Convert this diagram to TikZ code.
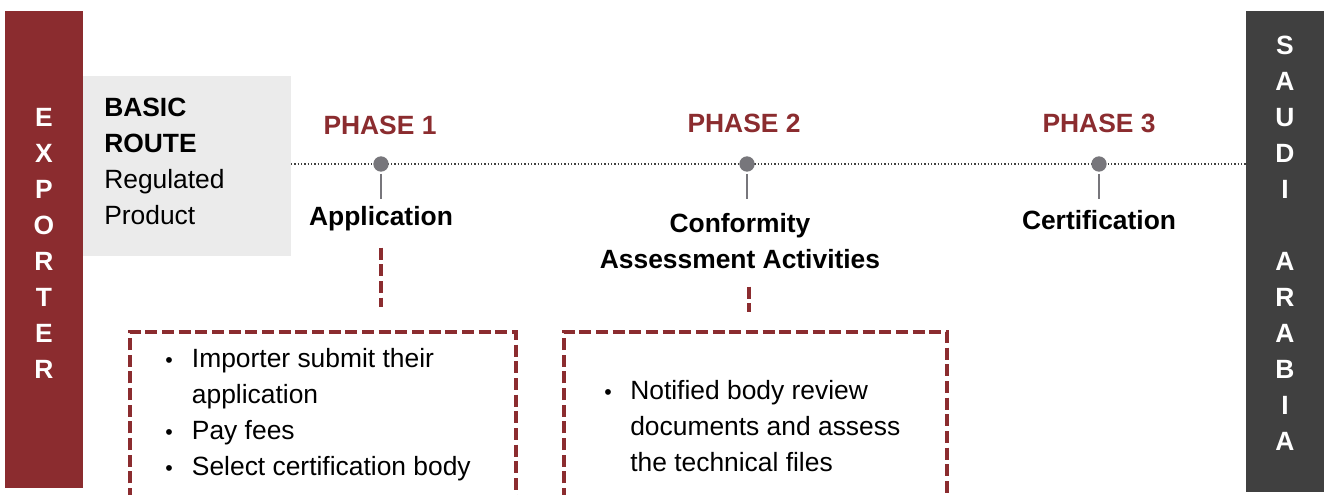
\documentclass[tikz,border=0pt]{standalone}
\usepackage{fontspec}
\setmainfont{Liberation Sans}
\definecolor{routered}{HTML}{8B2C2F}
\definecolor{saudigray}{HTML}{404040}
\definecolor{boxgray}{HTML}{EBEBEB}
\definecolor{dotgray}{HTML}{77767B}
\newcommand{\itembul}{{\fontsize{16}{16}\selectfont\textbullet}}

\begin{document}
\fontsize{19.8}{27}\selectfont
\begin{tikzpicture}[x=0.75pt,y=-0.75pt,
    sidetext/.style={text=white, font=\bfseries, anchor=base, inner sep=0pt},
    phase/.style={text=routered, font=\bfseries, anchor=base},
    steplabel/.style={font=\bfseries, anchor=base, inner sep=1pt},
    phasedot/.style={circle, fill=dotgray, minimum size=11.5pt, inner sep=0pt},
    tick/.style={draw=dotgray, line width=1.5pt, shorten <=1.5pt},
    reddash/.style={draw=routered, line width=3pt, dash pattern=on 9pt off 3.5pt},
    bulletlist/.style={anchor=base west, inner sep=0pt}]
\useasboundingbox (0,0) rectangle (1324,495);

% side bars
\fill[routered] (5,11) rectangle (83,488);
\fill[saudigray] (1246,11) rectangle (1324,492);
\node[sidetext] (exporter) at (44,127) {\begin{tabular}[t]{@{}c@{}}E\\X\\P\\O\\R\\T\\E\\R\end{tabular}};
\node[sidetext] (saudi) at (1285,55) {\begin{tabular}[t]{@{}c@{}}S\\A\\U\\D\\I\\ \\A\\R\\A\\B\\I\\A\end{tabular}};

% route box
\fill[boxgray] (83,76) rectangle (291,256);
\node[anchor=base west, inner sep=0pt] (route) at (104,117) {\begin{tabular}[t]{@{}l@{}}\textbf{BASIC}\\\textbf{ROUTE}\\Regulated\\Product\end{tabular}};

% timeline
\draw[draw=black!75, line width=1pt, dash pattern=on 1pt off 1.5pt] (291,164) -- (1246,164);

\node[phasedot] (d1) at (381,164) {};
\node[phasedot] (d2) at (747,164) {};
\node[phasedot] (d3) at (1099,164) {};

\node[phase] (p1) at (380,135) {PHASE 1};
\node[phase] (p2) at (744,133) {PHASE 2};
\node[phase] (p3) at (1099,133) {PHASE 3};

\draw[tick] (d1.south) -- ++(0,27);
\draw[tick] (d2.south) -- ++(0,27);
\draw[tick] (d3.south) -- ++(0,27);

\node[steplabel] (app) at (381,226) {Application};
\node[steplabel] (conf) at (740,233) {\begin{tabular}[t]{@{}c@{}}Conformity\\Assessment Activities\end{tabular}};
\node[steplabel] (cert) at (1099,230) {Certification};

% boxes
\coordinate (b1) at (381,332);
\coordinate (b2) at (749,332);
\draw[reddash] (130,500) -- (130,332) -- (516,332) -- (516,500);
\draw[reddash] (564,500) -- (564,332) -- (947,332) -- (947,500);

\draw[reddash, shorten <=11pt, shorten >=19pt] (app.south) -- (b1);
\draw[reddash, shorten <=4pt, shorten >=15pt] (conf.south -| b2) -- (b2);

\node[bulletlist] (list1) at (165,367) {\begin{tabular}[t]{@{}p{20pt}@{}l@{}}
\itembul & Importer submit their\\
 & application\\
\itembul & Pay fees\\
\itembul & Select certification body
\end{tabular}};
\node[bulletlist] (list2) at (604,399) {\begin{tabular}[t]{@{}p{19.5pt}@{}l@{}}
\itembul & Notified body review\\
 & documents and assess\\
 & the technical files
\end{tabular}};

\end{tikzpicture}
\end{document}
